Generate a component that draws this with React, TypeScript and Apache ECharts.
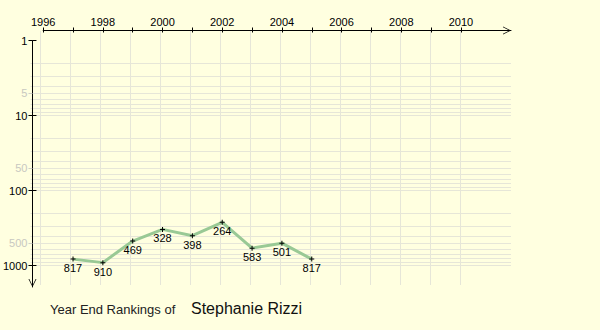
import { useEffect, useRef } from "react";
import * as echarts from "echarts";

const years = [1997, 1998, 1999, 2000, 2001, 2002, 2003, 2004, 2005];
const ranks = [817, 910, 469, 328, 398, 264, 583, 501, 817];
const xTickYears = [1996, 1997, 1998, 1999, 2000, 2001, 2002, 2003, 2004, 2005, 2006, 2007, 2008, 2009, 2010];
const xLabelYears = [1996, 1998, 2000, 2002, 2004, 2006, 2008, 2010];
const yMajor = [1, 10, 100, 1000];
const yMinorLabeled = [5, 50, 500];
const yGridLines = [
  2, 3, 4, 5, 6, 7, 8, 9, 10,
  20, 30, 40, 50, 60, 70, 80, 90, 100,
  200, 300, 400, 500, 600, 700, 800, 900, 1000,
];
const titlePrefix = "Year End Rankings of";
const playerName = "Stephanie Rizzi";

const FONT = "'Liberation Sans', Arial, sans-serif";
const BG = "#ffffe0";
const GRID_COLOR = "#e6e6d8";
const PX_PER_YEAR = 30;
const PX_PER_DECADE = 75;

// foreground grid (axes + data)
const B_LEFT = 40.7;
const B_TOP = 40.7;
const B_RIGHT_EDGE = 511;
const B_BOTTOM_EDGE = 287;
// background grid (split lines)
const A_LEFT = 30.5;
const A_TOP = 31;
const A_BOTTOM_EDGE = 285;

const FIRST_YEAR = 1996;
const xMaxB = FIRST_YEAR + (B_RIGHT_EDGE - B_LEFT) / PX_PER_YEAR;
const yMaxB = Math.pow(10, (B_BOTTOM_EDGE - B_TOP) / PX_PER_DECADE);
const xMinA = FIRST_YEAR - (B_LEFT - A_LEFT) / PX_PER_YEAR;
const yMinA = Math.pow(10, -(B_TOP - A_TOP) / PX_PER_DECADE);
const yMaxA = Math.pow(10, (A_BOTTOM_EDGE - B_TOP) / PX_PER_DECADE);

const CHEVRON = "path://M0,10 L5,0 L10,10 L9,10 L5,2 L1,10 Z";
const PLUS = "path://M2,0 L3,0 L3,2 L5,2 L5,3 L3,3 L3,5 L2,5 L2,3 L0,3 L0,2 L2,2 Z";

export default function App() {
  const ref = useRef<HTMLDivElement>(null);
  useEffect(() => {
    document.body.style.margin = "0";
    document.body.style.background = BG;
    if (!ref.current) return;
    const chart = echarts.init(ref.current, undefined, { renderer: "svg" });
    const hidden = { show: false };
    const fmt = (v: number) => String(Math.round(v));
    const yBase = {
      type: "log",
      gridIndex: 1,
      inverse: true,
      position: "left",
      offset: B_LEFT - 30,
      min: 1,
      max: yMaxB,
      splitLine: hidden,
    };
    chart.setOption({
      animation: false,
      backgroundColor: BG,
      textStyle: { fontFamily: FONT },
      title: [
        {
          text: titlePrefix,
          left: 50,
          top: 303,
          padding: 0,
          textStyle: { fontSize: 13, fontWeight: "normal", color: "#222", fontFamily: FONT },
        },
        {
          text: playerName,
          left: 191,
          top: 300,
          padding: 0,
          textStyle: { fontSize: 16, fontWeight: "normal", color: "#111", fontFamily: FONT },
        },
      ],
      grid: [
        {
          left: A_LEFT,
          top: A_TOP,
          width: B_RIGHT_EDGE - A_LEFT,
          height: A_BOTTOM_EDGE - A_TOP,
          containLabel: false,
        },
        {
          left: B_LEFT,
          top: B_TOP,
          width: B_RIGHT_EDGE - B_LEFT,
          height: B_BOTTOM_EDGE - B_TOP,
          containLabel: false,
        },
      ],
      xAxis: [
        {
          type: "value",
          gridIndex: 0,
          min: xMinA,
          max: xMaxB,
          axisLine: hidden,
          axisLabel: { show: false, customValues: xTickYears },
          axisTick: { show: false, customValues: xTickYears },
          splitLine: { show: true, lineStyle: { color: GRID_COLOR, width: 1 } },
        },
        {
          type: "value",
          gridIndex: 1,
          position: "top",
          offset: B_TOP - 30.5,
          min: FIRST_YEAR,
          max: xMaxB,
          axisLine: {
            show: true,
            lineStyle: { color: "#000", width: 1 },
            symbol: ["none", CHEVRON],
            symbolSize: [8, 8],
            symbolOffset: [0, -4],
          },
          axisTick: { show: true, customValues: xTickYears, length: 3, lineStyle: { color: "#000" } },
          axisLabel: {
            show: true,
            customValues: xLabelYears,
            margin: 3,
            color: "#000",
            fontSize: 11,
            fontFamily: FONT,
            formatter: fmt,
          },
          splitLine: hidden,
        },
        {
          type: "value",
          gridIndex: 1,
          position: "top",
          offset: B_TOP - 30.5,
          min: FIRST_YEAR,
          max: xMaxB,
          axisLine: hidden,
          axisTick: { show: true, inside: true, customValues: xTickYears, length: 2, lineStyle: { color: "#000" } },
          axisLabel: { show: false },
          splitLine: hidden,
        },
      ],
      yAxis: [
        {
          type: "log",
          gridIndex: 0,
          inverse: true,
          min: yMinA,
          max: yMaxA,
          axisLine: hidden,
          axisLabel: { show: false, customValues: yGridLines },
          axisTick: { show: false, customValues: yGridLines },
          splitLine: { show: true, lineStyle: { color: GRID_COLOR, width: 1 } },
        },
        {
          ...yBase,
          axisLine: {
            show: true,
            lineStyle: { color: "#000", width: 1 },
            symbol: [CHEVRON, "none"],
            symbolSize: [8, 8],
            symbolOffset: [4, 0],
          },
          axisTick: { show: true, customValues: yMajor, length: 4, lineStyle: { color: "#000" } },
          axisLabel: {
            show: true,
            customValues: yMajor,
            margin: 5,
            color: "#000",
            fontSize: 11,
            fontFamily: FONT,
            formatter: fmt,
          },
        },
        {
          ...yBase,
          axisLine: hidden,
          axisTick: { show: true, customValues: yMinorLabeled, length: 4, lineStyle: { color: "#d0d0c8" } },
          axisLabel: {
            show: true,
            customValues: yMinorLabeled,
            margin: 5,
            color: "#c8c8c0",
            fontSize: 11,
            fontFamily: FONT,
            formatter: fmt,
          },
        },
        {
          ...yBase,
          axisLine: hidden,
          axisTick: { show: true, inside: true, customValues: yMajor, length: 4, lineStyle: { color: "#000" } },
          axisLabel: { show: false },
        },
      ],
      series: [
        {
          type: "line",
          xAxisIndex: 1,
          yAxisIndex: 1,
          data: years.map((y, i) => [y, ranks[i]]),
          lineStyle: { color: "#99c995", width: 3 },
          symbol: PLUS,
          symbolSize: 5,
          itemStyle: { color: "#000" },
          z: 5,
          label: {
            show: true,
            position: "bottom",
            distance: 1,
            color: "#000",
            fontSize: 11,
            fontFamily: FONT,
            formatter: (p: any) => String(p.value[1]),
          },
        },
      ],
    });
    return () => chart.dispose();
  }, []);
  return (
    <div
      ref={ref}
      style={{ position: "fixed", left: 0, top: 0, width: 600, height: 330 }}
    />
  );
}
